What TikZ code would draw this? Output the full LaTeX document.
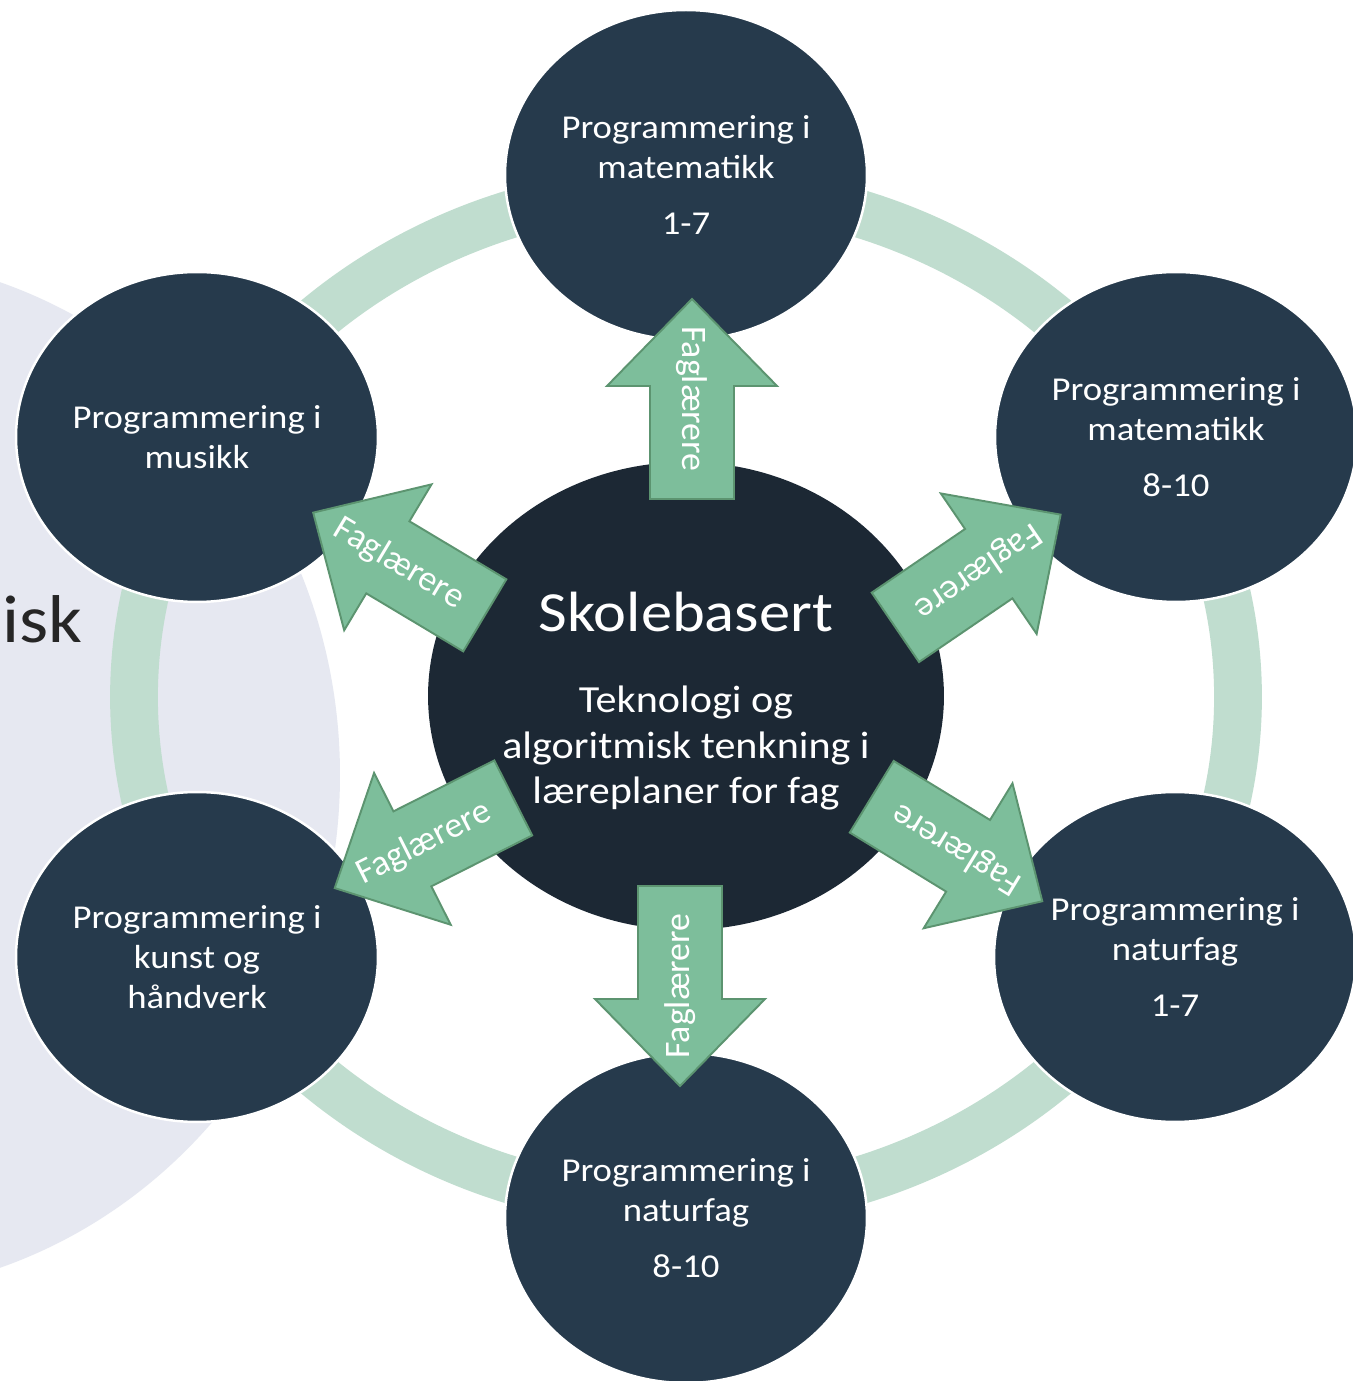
\documentclass[tikz,border=0pt]{standalone}
\usepackage{fontspec}
\setmainfont{Carlito}[FakeStretch=1.1]
\newfontfamily\arrowfont{Carlito}
\usepackage{xcolor}
\usepackage{tikz}
\usetikzlibrary{shapes.geometric}

\definecolor{satblue}{HTML}{263A4C}
\definecolor{hubblue}{HTML}{1C2834}
\definecolor{ringgreen}{HTML}{C0DDCF}
\definecolor{arrowgreen}{HTML}{7DBE9B}
\definecolor{arrowedge}{HTML}{5C9470}
\definecolor{lavender}{HTML}{E6E8F1}
\definecolor{isktext}{HTML}{262626}

\tikzset{
	sat/.style={ellipse, draw=white, line width=1.4pt, fill=satblue, minimum width=7.24cm, minimum height=6.6cm, inner sep=0pt},
	sattext/.style={text=white, align=center, inner sep=0pt, font=\fontsize{19}{22.7}\selectfont},
	hub/.style={ellipse, fill=hubblue, minimum width=10.32cm, minimum height=9.36cm, inner sep=0pt},
	ring/.style={draw=ringgreen, line width=27.2pt},
	arrowbody/.style={fill=arrowgreen, draw=arrowedge, line width=1.1pt},
	arrowtext/.style={text=white, inner sep=0pt, font=\arrowfont\fontsize{20.4}{24}\selectfont},
	fagarrow/.pic={
		\filldraw[arrowbody] (-100,-42) -- (13,-42) -- (13,-85) -- (100,0) -- (13,85) -- (13,42) -- (-100,42) -- cycle;
		\node[arrowtext, rotate=180] (-label) at (0,0) {Faglærere};
	}
}

\begin{document}
\begin{tikzpicture}[x=0.02cm, y=0.02cm]
	\useasboundingbox (-686,-684) rectangle (666,697);
	\fill[white] (-686,-684) rectangle (666,697);
	% background shape and cut text on the left
	\fill[lavender] (-846,-78) ellipse [x radius=500, y radius=520];
	\node[anchor=base west, inner sep=0pt, text=isktext, font=\fontsize{38.5}{46}\selectfont] (isk) at (-684,54) {isk};
	% ring
	\draw[ring] (0,0) ellipse [x radius=552, y radius=509];
	% satellites
	\node[sat] (mat17) at (0,522) {};
	\node[sat] (mat810) at (490,260) {};
	\node[sat] (nat17) at (489,-260) {};
	\node[sat] (nat810) at (0,-521) {};
	\node[sat] (kunst) at (-489,-260) {};
	\node[sat] (musikk) at (-489,260) {};
	\node[sattext] (mat17text) at (mat17) {Programmering i\\matematikk\\[9pt]1-7};
	\node[sattext] (mat810text) at (mat810) {Programmering i\\matematikk\\[9pt]8-10};
	\node[sattext] (nat17text) at (nat17) {Programmering i\\naturfag\\[9pt]1-7};
	\node[sattext] (nat810text) at (nat810) {Programmering i\\naturfag\\[9pt]8-10};
	\node[sattext] (kunsttext) at (kunst) {Programmering i\\kunst og\\håndverk};
	\node[sattext] (musikktext) at (musikk) {Programmering i\\musikk};
	% centre
	\node[hub] (hub) at (0,1) {};
	\node[anchor=base, text=white, inner sep=0pt, font=\fontsize{32.3}{38}\selectfont] (title) at (0,65) {Skolebasert};
	\node[text=white, inner sep=0pt, align=center, font=\fontsize{21.8}{26}\selectfont] (hubtext) at (0,-51) {Teknologi og\\algoritmisk tenkning i\\læreplaner for fag};
	% arrows
	\pic[rotate=90, transform shape] (up) at (6,298) {fagarrow};
	\pic[rotate=34.3, transform shape] (upright) at (292,126) {fagarrow};
	\pic[rotate=-31.5, transform shape] (downright) at (271,-152) {fagarrow};
	\pic[rotate=-90, transform shape] (down) at (-6,-289) {fagarrow};
	\pic[rotate=206.8, transform shape] (downleft) at (-262,-146) {fagarrow};
	\pic[rotate=149.1, transform shape] (upleft) at (-287,133) {fagarrow};
\end{tikzpicture}
\end{document}
